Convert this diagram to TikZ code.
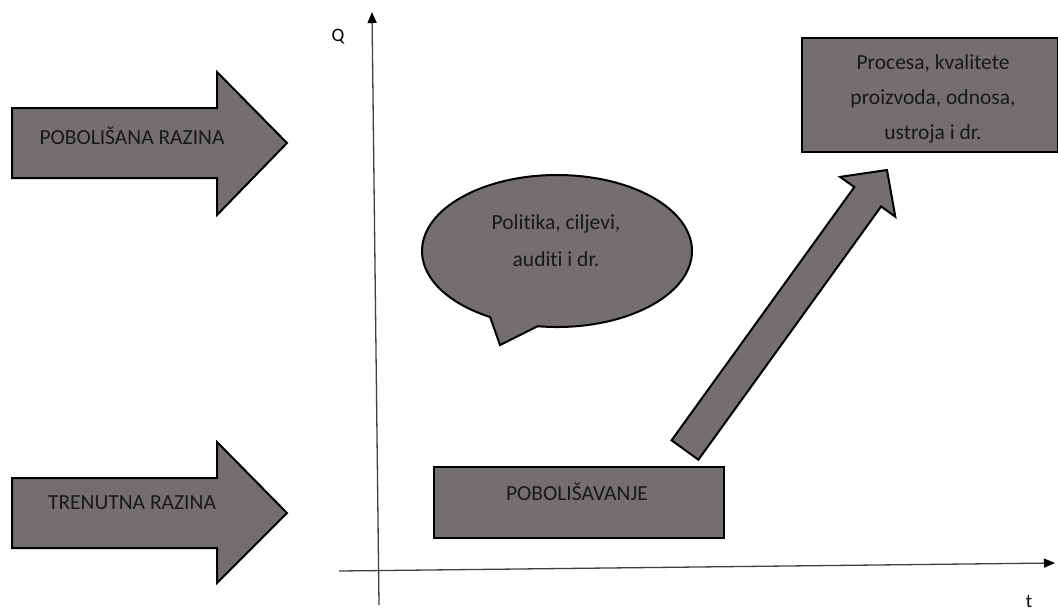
\documentclass[tikz,border=0pt]{standalone}
\usepackage{fontspec}
\setmainfont{Carlito}[Ligatures={NoCommon,NoDiscretionary,NoContextual}]
\usetikzlibrary{arrows.meta,calc}
\definecolor{shapegray}{RGB}{115,111,110}
\begin{document}
\begin{tikzpicture}[x=1pt,y=-1pt,
  blk/.style={fill=shapegray,draw=black,line width=2pt,line join=miter},
  lbl/.style={font=\fontsize{21.5}{35}\selectfont,anchor=base,inner sep=0pt,text=black!90},
  axislbl/.style={font=\fontsize{19}{22}\selectfont,inner sep=0pt},
  axisline/.style={line width=1.3pt,draw=black!75,-{Triangle[length=11pt,width=9pt,color=black]}}]
\useasboundingbox (0,0) rectangle (1058,611);

% axes
\coordinate (ybot) at (379,605);
\coordinate (ytop) at (372,12);
\coordinate (xleft) at (339,571);
\coordinate (xright) at (1055,563);
\draw[axisline] (ybot) -- (ytop);
\draw[axisline] (xleft) -- (xright);
\node[axislbl] (qlab) at (338,37) {Q};
\node[axislbl] (tlab) at (1029,602) {t};

% block arrows on the left
\path[blk] (12,108) -- (217,108) -- (217,72) -- (287,143) -- (217,215) -- (217,178) -- (12,178) -- cycle;
\path[blk] (12,478) -- (217,478) -- (217,442) -- (287,513) -- (217,583) -- (217,548) -- (12,548) -- cycle;
\node[lbl] (lblA) at (132,144) {POBOLIŠANA RAZINA};
\node[lbl] (lblB) at (132,509) {TRENUTNA RAZINA};

% speech bubble
\coordinate (ec) at (557,251);
\coordinate (tailtip) at (500,345);
\path[blk] ($(ec)+(98.2:135 and 76)$) arc[start angle=98.2, end angle=-240.3, x radius=135, y radius=76] -- (tailtip) -- cycle;
\node[lbl] (e1) at (556,229.5) {Politika, ciljevi,};
\node[lbl] (e2) at (556,266.5) {auditi i dr.};

% improvement box
\node[blk, anchor=north west, minimum width=290pt, minimum height=71pt, inner sep=0pt] (impr) at (433,466) {};
\node[lbl] (lblC) at (577,500) {POBOLIŠAVANJE};

% result box
\node[blk, anchor=north west, minimum width=255.7pt, minimum height=114pt, inner sep=0pt] (res) at (801,37) {};
\node[lbl] (r1) at (933,69.5) {Procesa, kvalitete};
\node[lbl] (r2) at (933,104.5) {proizvoda, odnosa,};
\node[lbl] (r3) at (933,139.5) {ustroja i dr.};

% diagonal block arrow
\path[blk] (671.6,440.3) -- (854.3,187.1) -- (840.1,176.9) -- (887,170) -- (895.3,216.7) -- (881.1,206.5) -- (698.4,459.7) -- cycle;
\end{tikzpicture}
\end{document}
